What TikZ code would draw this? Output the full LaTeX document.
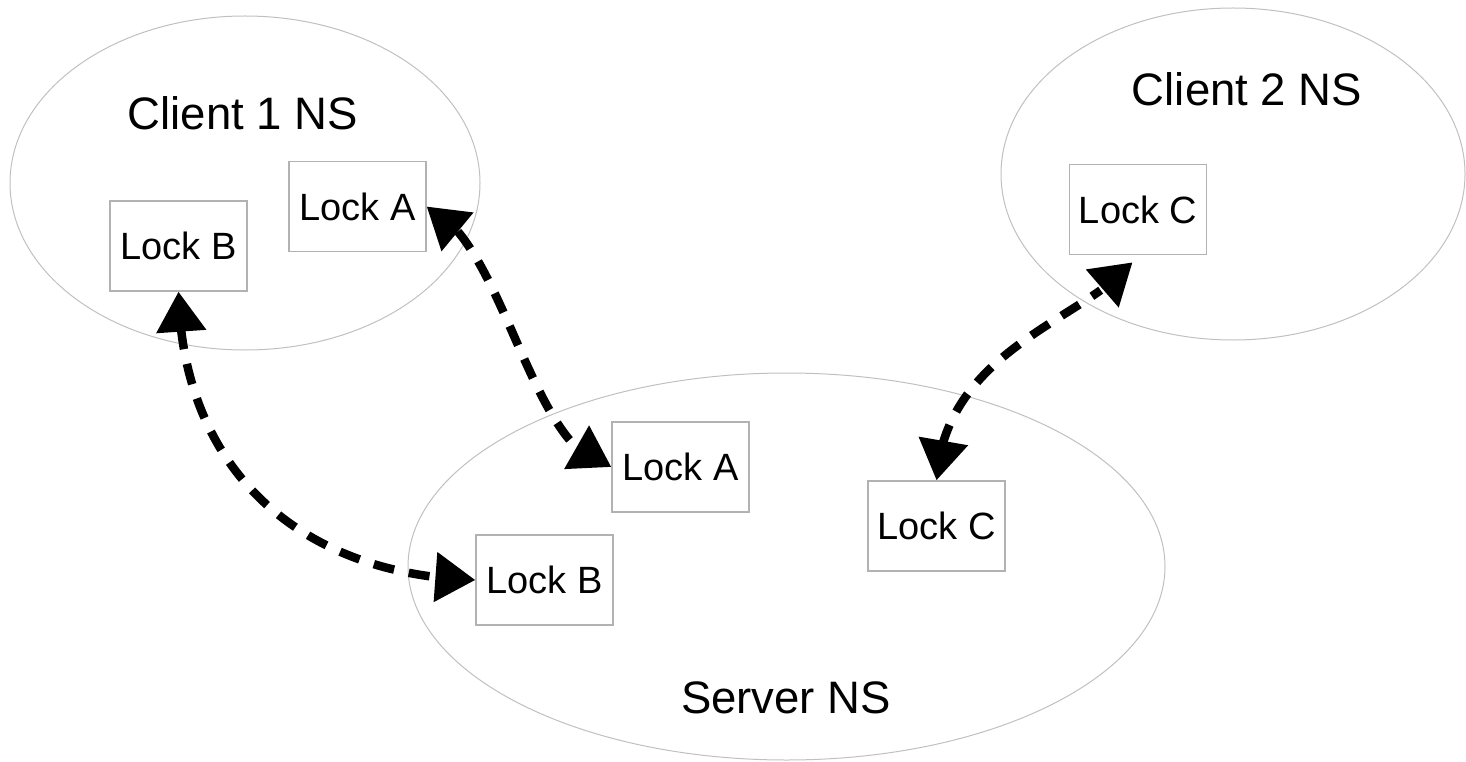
\documentclass[tikz,border=0pt]{standalone}
\usepackage{fontspec}
\setmainfont{Liberation Sans}
\usetikzlibrary{shapes.geometric,arrows.meta,bending}
\definecolor{nsgray}{RGB}{192,192,192}
\definecolor{boxgray}{RGB}{178,178,178}
\begin{document}
\begin{tikzpicture}[x=1pt,y=-1pt,
  ns/.style={ellipse, draw=nsgray, line width=1pt, inner sep=0pt},
  lockbox/.style={draw=boxgray, line width=1.3pt, minimum width=137pt,
    minimum height=90pt, inner sep=0pt, font=\fontsize{38}{44}\selectfont},
  nslabel/.style={font=\fontsize{45.5}{52}\selectfont, inner sep=0pt},
  link/.style={line width=8.5pt, dash pattern=on 21pt off 15pt,
    {Triangle[length=40pt,width=48pt]}-{Triangle[length=40pt,width=48pt]}}
]
\useasboundingbox (0,0) rectangle (1466,762);

% namespaces
\node[ns, minimum width=470pt, minimum height=334pt] (c1ns) at (245,183) {};
\node[ns, minimum width=464pt, minimum height=332pt] (c2ns) at (1233,174) {};
\node[ns, minimum width=757pt, minimum height=387pt] (sns) at (786.5,566.5) {};

\node[nslabel] (c1lbl) at (243,113) {Client 1 NS};
\node[nslabel] (c2lbl) at (1247,89) {Client 2 NS};
\node[nslabel] (slbl) at (786,698) {Server NS};

% locks
\node[lockbox] (c1b) at (178.5,246) {Lock B};
\node[lockbox] (c1a) at (357.5,206.5) {Lock A};
\node[lockbox] (c2c) at (1138,209.5) {Lock C};
\node[lockbox] (sa) at (680.5,467) {Lock A};
\node[lockbox] (sb) at (544.5,580) {Lock B};
\node[lockbox] (sc) at (936.5,526) {Lock C};

% lock links
\draw[link] (c1b.south) .. controls (182,470) and (300,575) .. (sb.west);
\draw[link] (c1a.east) .. controls (505,240) and (530,455) .. (sa.west);
\draw[link, shorten >=9pt] (sc.north) .. controls (945,345) and (1095,318) .. (c2c.south);
\end{tikzpicture}
\end{document}
